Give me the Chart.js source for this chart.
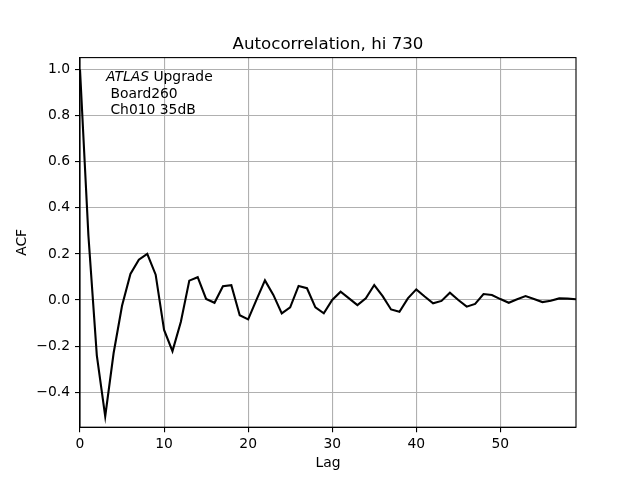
<!DOCTYPE html>
<html>
<head>
<meta charset="utf-8">
<script src="https://cdn.jsdelivr.net/npm/chart.js@4"></script>
<style>
  body { margin: 0; background: #fff; }
  #wrap { width: 640px; height: 480px; }
</style>
</head>
<body>
<div id="wrap"><canvas id="acf" width="640" height="480"></canvas></div>
<script>
// lag 0..59
const lags = [];
for (let i = 0; i < 60; i++) lags.push(i);
const acf = [
    1.000, 0.280, -0.240, -0.505, -0.230, -0.025, 0.113, 0.175, 0.200, 0.110,
    -0.130, -0.222, -0.094, 0.084, 0.099, 0.005, -0.012, 0.060, 0.064, -0.066,
    -0.084, 0.002, 0.085, 0.022, -0.058, -0.032, 0.061, 0.051, -0.032, -0.058,
    0.000, 0.036, 0.007, -0.022, 0.007, 0.065, 0.017, -0.041, -0.051, 0.007,
    0.046, 0.015, -0.014, -0.004, 0.032, 0.000, -0.029, -0.017, 0.026, 0.022,
    0.004, -0.012, 0.003, 0.017, 0.004, -0.009, -0.003, 0.007, 0.006, 0.003
];
const xTicks = [0, 10, 20, 30, 40, 50];
const yTicks = [-0.4, -0.2, 0.0, 0.2, 0.4, 0.6, 0.8, 1.0];

const FONT = "'DejaVu Sans', sans-serif";

// title, label box and the top/right spines
const extras = {
    id: 'extras',
    afterDraw(chart) {
        const c = chart.ctx;
        const a = chart.chartArea;
        c.save();
        c.strokeStyle = '#000';
        c.lineWidth = 1.1;
        c.strokeRect(a.left, a.top, a.right - a.left, a.bottom - a.top);

        c.fillStyle = '#000';
        c.textBaseline = 'alphabetic';
        c.textAlign = 'center';
        c.font = '16.67px ' + FONT;
        c.fillText('Autocorrelation, hi 730', (a.left + a.right) / 2, 49);

        c.textAlign = 'left';
        c.font = 'italic 13.89px ' + FONT;
        c.fillText('ATLAS', 106, 81);
        let w = c.measureText('ATLAS').width;
        c.font = '13.89px ' + FONT;
        c.fillText(' Upgrade', 106 + w, 81);
        c.fillText(' Board260', 106, 97.5);
        c.fillText(' Ch010 35dB', 106, 113.5);
        c.restore();
    }
};

new Chart(document.getElementById('acf'), {
    type: 'line',
    data: {
        labels: lags,
        datasets: [{
            data: acf.map((v, i) => ({ x: lags[i], y: v })),
            borderColor: '#000',
            borderWidth: 2.1,
            pointRadius: 0,
            tension: 0,
            fill: false
        }]
    },
    options: {
        responsive: false,
        animation: false,
        layout: { padding: { left: 0, right: 64, top: 57.6, bottom: 0 } },
        plugins: {
            legend: { display: false },
            tooltip: { enabled: false }
        },
        scales: {
            x: {
                type: 'linear',
                min: 0,
                max: 59,
                afterBuildTicks: s => { s.ticks = xTicks.map(v => ({ value: v })); },
                afterFit: s => { s.height = 52.8; },
                grid: { color: '#b0b0b0', lineWidth: 1.1, tickColor: '#000', tickWidth: 1.1, tickLength: 5 },
                border: { color: '#000', width: 1.1 },
                ticks: {
                    color: '#000', padding: 4, maxRotation: 0,
                    font: { family: FONT, size: 13.89 },
                    callback: v => String(v)
                },
                title: {
                    display: true, text: 'Lag', color: '#000',
                    font: { family: FONT, size: 13.89 },
                    padding: { top: 0, bottom: 8 }
                }
            },
            y: {
                min: -0.552,
                max: 1.052,
                afterBuildTicks: s => { s.ticks = yTicks.map(v => ({ value: v })); },
                afterFit: s => { s.width = 80; },
                grid: { color: '#b0b0b0', lineWidth: 1.1, tickColor: '#000', tickWidth: 1.1, tickLength: 5 },
                border: { color: '#000', width: 1.1 },
                ticks: {
                    color: '#000', padding: 5,
                    font: { family: FONT, size: 13.89 },
                    callback: v => v.toFixed(1).replace('-', '\u2212')
                },
                title: {
                    display: true, text: 'ACF', color: '#000',
                    font: { family: FONT, size: 13.89 },
                    padding: { top: 14, bottom: 0 }
                }
            }
        }
    },
    plugins: [extras]
});
</script>
</body>
</html>
